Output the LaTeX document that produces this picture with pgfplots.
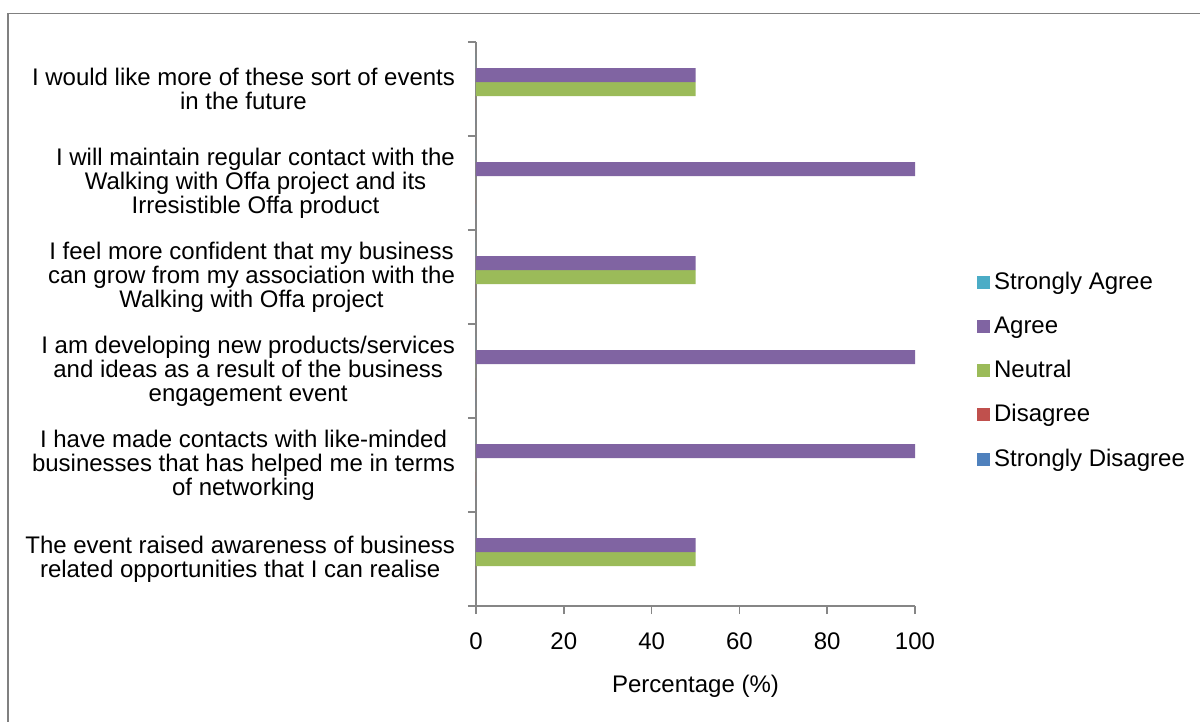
\documentclass[border=0pt]{standalone}
\usepackage{pgfplots}
\pgfplotsset{compat=1.18}
\usepackage{fontspec}
\setmainfont{Liberation Sans}
\definecolor{sa}{HTML}{4BACC6}
\definecolor{ag}{HTML}{8064A2}
\definecolor{ne}{HTML}{9BBB59}
\definecolor{di}{HTML}{C0504D}
\definecolor{sd}{HTML}{4F81BD}
\definecolor{axgray}{HTML}{868686}
\definecolor{bordergray}{HTML}{808080}
\pgfplotsset{sq/.style={legend image code/.code={\fill[##1] (0pt,-3.25pt) rectangle (6.5pt,3.25pt);}}}
\begin{document}
\begin{tikzpicture}[font=\fontsize{12pt}{12pt}\selectfont]
\useasboundingbox (0,0) rectangle (600pt,-361pt);
\draw[draw=bordergray, line width=0.7pt] (4pt,-361pt) -- (4pt,-6.75pt) -- (600pt,-6.75pt);
\begin{axis}[
  at={(238pt,-303pt)}, anchor=south west,
  scale only axis, width=219.5pt, height=282pt,
  xmin=0, xmax=100, ymin=-0.5, ymax=5.5,
  xbar, bar width=7pt,
  axis x line=bottom, axis y line=left,
  axis line style={-, draw=axgray, line width=0.8pt},
  xtick={0,20,40,60,80,100},
  ytick={0,1,2,3,4,5},
  minor ytick={-0.5,0.5,1.5,2.5,3.5,4.5,5.5},
  tick align=outside, major tick length=4pt, minor tick length=4pt,
  every tick/.style={draw=axgray, line width=0.8pt},
  major y tick style={draw=none},
  /pgf/number format/assume math mode=true,
  yticklabels={
    {The event raised awareness of business\\related opportunities that I can realise},
    {I have made contacts with like-minded\\businesses that has helped me in terms\\of networking},
    {I am developing new products/services\\and ideas as a result of the business\\engagement event},
    {I feel more confident that my business\\can grow from my association with the\\Walking with Offa project},
    {I will maintain regular contact with the\\Walking with Offa project and its\\Irresistible Offa product},
    {I would like more of these sort of events\\in the future}},
  yticklabel style={align=center, anchor=east, xshift=-3pt, font=\fontsize{12pt}{12pt}\selectfont},
  xticklabel style={yshift=-6pt, font=\fontsize{12pt}{12pt}\selectfont},
  xlabel={Percentage (\%)},
  xlabel style={at={(axis description cs:0.5,0)}, anchor=center, yshift=-40pt, font=\fontsize{12pt}{12pt}\selectfont},
  legend style={at={(1.127,0.417)}, anchor=west, draw=none, fill=none,
    row sep=8pt, font=\fontsize{12pt}{12pt}\selectfont},
  legend cell align=left,
  reverse legend,
]
\addplot[sq, fill=sd, draw=none, bar shift=-14pt] coordinates {(0,0) (0,1) (0,2) (0,3) (0,4) (0,5)};
\addlegendentry{Strongly Disagree}
\addplot[sq, fill=di, draw=none, bar shift=-7pt] coordinates {(0,0) (0,1) (0,2) (0,3) (0,4) (0,5)};
\addlegendentry{Disagree}
\addplot[sq, fill=ne, draw=none, bar shift=0pt] coordinates {(50,0) (0,1) (0,2) (50,3) (0,4) (50,5)};
\addlegendentry{Neutral}
\addplot[sq, fill=ag, draw=none, bar shift=7pt] coordinates {(50,0) (100,1) (100,2) (50,3) (100,4) (50,5)};
\addlegendentry{Agree}
\addplot[sq, fill=sa, draw=none, bar shift=14pt] coordinates {(0,0) (0,1) (0,2) (0,3) (0,4) (0,5)};
\addlegendentry{Strongly Agree}
\end{axis}
\end{tikzpicture}
\end{document}
